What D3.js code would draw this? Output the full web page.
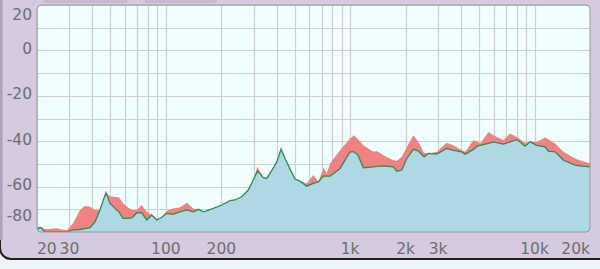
<!DOCTYPE html>
<html>
<head>
<meta charset="utf-8">
<script src="https://cdn.jsdelivr.net/npm/d3@7"></script>
<style>
  body { margin: 0; background: #eef5fa; }
  svg { display: block; }
  .tick-label { font-family: "DejaVu Sans", Verdana, sans-serif; font-size: 15.5px; fill: #6e6e6e; }
</style>
</head>
<body>
<svg id="chart"></svg>
<script>
// spectrum readings (Hz, dB)
var freqs = [20, 21, 22, 23.5, 25.4, 27.3, 29.1, 31.4, 34.2, 36.4, 38.8, 41.3, 43.9, 47.3, 49.8, 53, 55.7, 58.6,
  61.6, 65.6, 69.5, 74, 78.8, 83.8, 89.2, 95, 101, 109, 119, 130, 141, 150, 160, 181, 201, 223, 237, 258, 280,
  298, 314, 338, 353, 375, 400, 422, 443, 472, 502, 535, 581, 631, 672, 716, 746, 778, 881, 998, 1050, 1103,
  1179, 1336, 1394, 1514, 1715, 1790, 1905, 2028, 2202, 2343, 2517, 2656, 2950, 3342, 3630, 4031, 4203, 4660,
  4880, 5067, 5620, 5985, 6506, 6780, 7372, 8016, 8892, 9464, 10290, 11410, 11900, 12930, 14350, 16600, 18120, 20000]

var levelDb = [-78.7, -78.1, -80, -80, -80, -80, -80, -79.1, -78.9, -78.5, -78.1, -75.5, -70.3, -62.7, -67.4, -69.6,
  -71.2, -74.0, -74.0, -73.7, -71.5, -71.6, -74.7, -72.5, -74.7, -73.5, -71.8, -72.2, -71.1, -70.3, -71.1, -70.0,
  -71.1, -69.6, -68.1, -66.2, -65.9, -64.5, -61.5, -57.1, -53.2, -56.1, -56.4, -53.0, -49.1, -43.4, -47.6, -52.3,
  -56.7, -57.6, -59.8, -58.6, -57.9, -55.4, -55.4, -55.4, -52.0, -44.7, -44.7, -46.2, -51.7, -51.3, -51.1, -50.9,
  -51.3, -53.2, -52.7, -47.6, -43.6, -44.3, -46.9, -45.4, -45.7, -43.2, -44.0, -44.7, -45.7, -43.6, -42.2, -41.8,
  -41.0, -40.3, -41.0, -41.3, -40.3, -39.3, -42.2, -40.3, -41.8, -42.5, -44.4, -44.7, -48.4, -50.5, -51.0, -51.3]

var peakDb = [-77.8, -77.7, -78.7, -78.7, -78.4, -78.9, -79.1, -76.2, -70.3, -68.4, -68.9, -70.3, -70.3, -62.7, -64.2,
  -64.6, -64.7, -67.3, -68.9, -70.3, -70.3, -68.1, -71.1, -72.5, -74.7, -73.5, -70.8, -69.6, -69.2, -67.1, -69.6,
  -70.0, -71.1, -69.6, -68.1, -66.2, -65.9, -64.5, -61.5, -57.1, -51.3, -56.1, -56.4, -53.0, -49.1, -43.4, -47.6,
  -52.3, -56.7, -57.6, -58.6, -54.9, -57.9, -51.7, -54.2, -49.8, -44.0, -38.8, -37.4, -39.1, -41.8, -44.7, -44.3,
  -46.2, -48.4, -48.7, -46.9, -42.5, -37.4, -40.3, -45.1, -45.4, -44.7, -40.7, -41.8, -44.0, -44.7, -39.6, -40.0,
  -41.0, -35.9, -37.4, -38.8, -39.6, -36.6, -38.1, -40.7, -40.3, -40.3, -38.4, -39.3, -41.0, -44.7, -47.6, -48.8, -49.7]

// grid + ticks
var xGrid = [20, 30, 40, 50, 60, 70, 80, 90, 100, 200, 300, 400, 500, 600, 700, 800, 900,
  1000, 2000, 3000, 4000, 5000, 6000, 7000, 8000, 9000, 10000, 20000]
var xTickValues = [20, 30, 100, 200, 1000, 2000, 3000, 10000, 20000]
var xTickLabels = ["20", "30", "100", "200", "1k", "2k", "3k", "10k", "20k"]
var yGrid = [20, 10, 0, -10, -20, -30, -40, -50, -60, -70, -80]
var yTickValues = [20, 0, -20, -40, -60, -80]

var W = 600, H = 269
var plot = { left: 37, right: 590, top: 5, bottom: 232 }

var svg = d3.select("#chart").attr("width", W).attr("height", H)

// panel background
svg.append("rect")
  .attr("x", 0).attr("y", -20)
  .attr("width", W + 20).attr("height", 279)
  .attr("rx", 11)
  .attr("fill", "#d5cadf")
  .attr("stroke", "#1f1f1f")
  .attr("stroke-width", 2)
svg.append("rect")
  .attr("x", 0).attr("y", 0).attr("width", 2.5).attr("height", 240)
  .attr("fill", "#aea4b8")

// tabs at the top
svg.append("rect").attr("x", 43).attr("y", -4).attr("width", 85).attr("height", 7).attr("rx", 3).attr("fill", "#c6bad1")
svg.append("rect").attr("x", 144).attr("y", -4).attr("width", 73).attr("height", 7).attr("rx", 3).attr("fill", "#c6bad1")

var x = d3.scaleLog().domain([20, 20000]).range([plot.left, plot.right])
var y = d3.scaleLinear().domain([-80, 20]).range([plot.bottom, plot.top])

var defs = svg.append("defs")
defs.append("clipPath").attr("id", "plotclip")
  .append("rect")
  .attr("x", plot.left).attr("y", plot.top)
  .attr("width", plot.right - plot.left).attr("height", plot.bottom - plot.top)
  .attr("rx", 4)

svg.append("rect")
  .attr("x", plot.left).attr("y", plot.top)
  .attr("width", plot.right - plot.left).attr("height", plot.bottom - plot.top)
  .attr("rx", 4)
  .attr("fill", "#f0fefe")

var g = svg.append("g").attr("clip-path", "url(#plotclip)")

// grid lines
g.selectAll(".vgrid")
  .data(xGrid)
  .enter().append("line")
  .attr("class", "vgrid")
  .attr("x1", function (d) { return Math.round(x(d)) + 0.5 })
  .attr("x2", function (d) { return Math.round(x(d)) + 0.5 })
  .attr("y1", plot.top).attr("y2", plot.bottom)
  .attr("stroke", "#cfcfcf").attr("stroke-width", 1.2)

g.selectAll(".hgrid")
  .data(yGrid)
  .enter().append("line")
  .attr("class", "hgrid")
  .attr("y1", function (d) { return Math.round(y(d)) + 0.5 })
  .attr("y2", function (d) { return Math.round(y(d)) + 0.5 })
  .attr("x1", plot.left).attr("x2", plot.right)
  .attr("stroke", "#cfcfcf").attr("stroke-width", 1.2)

var idx = d3.range(freqs.length)

var peakArea = d3.area()
  .x(function (i) { return x(freqs[i]) })
  .y0(plot.bottom + 2)
  .y1(function (i) { return y(peakDb[i]) })

var levelArea = d3.area()
  .x(function (i) { return x(freqs[i]) })
  .y0(plot.bottom + 2)
  .y1(function (i) { return y(levelDb[i]) })

var levelLine = d3.line()
  .x(function (i) { return x(freqs[i]) })
  .y(function (i) { return y(levelDb[i]) })

g.append("path").datum(idx).attr("d", peakArea).attr("fill", "#f08282")
g.append("path").datum(idx).attr("d", levelArea).attr("fill", "#add8e4")
g.append("path").datum(idx).attr("d", levelLine)
  .attr("fill", "none").attr("stroke", "#2f8a57").attr("stroke-width", 1.3)

// plot border
svg.append("rect")
  .attr("x", plot.left).attr("y", plot.top)
  .attr("width", plot.right - plot.left).attr("height", plot.bottom - plot.top)
  .attr("rx", 4)
  .attr("fill", "none")
  .attr("stroke", "#9a9a9a").attr("stroke-width", 1)

// x labels, kept inside the plot's width
svg.selectAll(".xlab")
  .data(xTickValues)
  .enter().append("text")
  .attr("class", "tick-label xlab")
  .attr("y", 254)
  .attr("text-anchor", "middle")
  .text(function (d, i) { return xTickLabels[i] })
  .attr("x", function (d) {
    var w = this.getComputedTextLength()
    var cx = x(d)
    return Math.max(plot.left + w / 2, Math.min(plot.right - w / 2, cx))
  })

// y labels, kept inside the plot's height
svg.selectAll(".ylab")
  .data(yTickValues)
  .enter().append("text")
  .attr("class", "tick-label ylab")
  .attr("x", 32)
  .attr("text-anchor", "end")
  .attr("dy", "0.35em")
  .attr("y", function (d) { return Math.max(15, Math.min(216, y(d) - 2)) })
  .text(function (d) { return d })
</script>
</body>
</html>
